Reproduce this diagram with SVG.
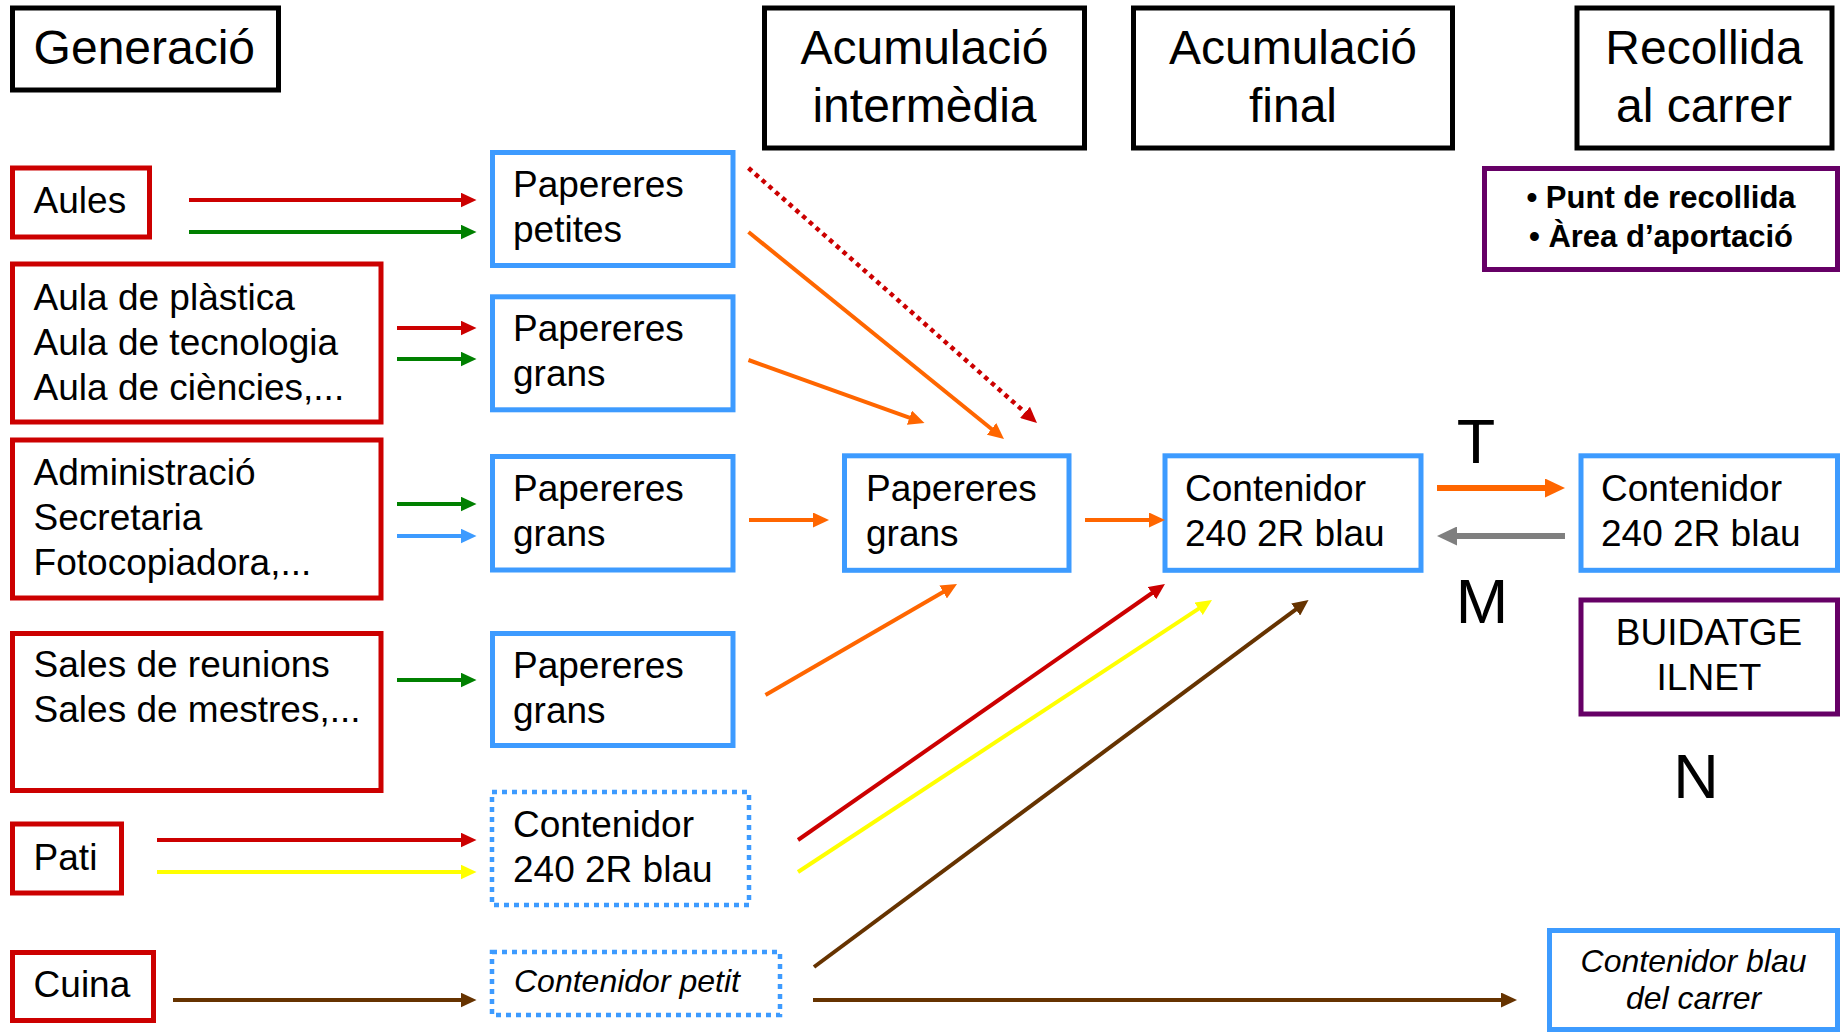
<svg xmlns="http://www.w3.org/2000/svg" width="1843" height="1032" viewBox="0 0 1843 1032">
<style>
text{font-family:"Liberation Sans",Arial,sans-serif;fill:#000}
.t37{font-size:37px}
.t48{font-size:48px}
.t63{font-size:63px}
.it{font-size:32px;font-style:italic}
.bold{font-size:31px;font-weight:bold}
.mid{text-anchor:middle}
.bk{fill:#fff;stroke:#000;stroke-width:5}
.rd{fill:#fff;stroke:#cc0000;stroke-width:5}
.bl{fill:#fff;stroke:#3d9bff;stroke-width:5}
.bld{fill:#fff;stroke:#3d9bff;stroke-width:4.5;stroke-dasharray:5 5}
.pu{fill:#fff;stroke:#660066;stroke-width:5}
.c{fill:none;stroke-width:4}
</style>
<defs>
<marker id="ah-red" markerUnits="userSpaceOnUse" markerWidth="16" markerHeight="15" refX="2" refY="7.5" orient="auto"><path d="M0,0 L16,7.5 L0,15z" fill="#cc0000"/></marker>
<marker id="ah-green" markerUnits="userSpaceOnUse" markerWidth="16" markerHeight="15" refX="2" refY="7.5" orient="auto"><path d="M0,0 L16,7.5 L0,15z" fill="#008000"/></marker>
<marker id="ah-blue" markerUnits="userSpaceOnUse" markerWidth="16" markerHeight="15" refX="2" refY="7.5" orient="auto"><path d="M0,0 L16,7.5 L0,15z" fill="#3d9bff"/></marker>
<marker id="ah-orange" markerUnits="userSpaceOnUse" markerWidth="16" markerHeight="15" refX="2" refY="7.5" orient="auto"><path d="M0,0 L16,7.5 L0,15z" fill="#ff6600"/></marker>
<marker id="ah-yellow" markerUnits="userSpaceOnUse" markerWidth="16" markerHeight="15" refX="2" refY="7.5" orient="auto"><path d="M0,0 L16,7.5 L0,15z" fill="#ffff00"/></marker>
<marker id="ah-brown" markerUnits="userSpaceOnUse" markerWidth="16" markerHeight="15" refX="2" refY="7.5" orient="auto"><path d="M0,0 L16,7.5 L0,15z" fill="#663300"/></marker>
<marker id="ah-orange-big" markerUnits="userSpaceOnUse" markerWidth="20" markerHeight="19" refX="2" refY="9.5" orient="auto"><path d="M0,0 L20,9.5 L0,19z" fill="#ff6600"/></marker>
<marker id="ah-gray-big" markerUnits="userSpaceOnUse" markerWidth="20" markerHeight="19" refX="2" refY="9.5" orient="auto"><path d="M0,0 L20,9.5 L0,19z" fill="#7f7f7f"/></marker>
</defs>
<rect width="1843" height="1032" fill="#fff"/>

<g id="h-generacio"><rect class="bk" x="12.5" y="8" width="266" height="82"/><text class="t48" x="33.6" y="63.5">Generació</text></g>
<g id="h-acum-intermedia"><rect class="bk" x="764.5" y="8" width="320" height="140"/><text class="t48 mid" x="924.5" y="64">Acumulació</text><text class="t48 mid" x="924.5" y="121.5">intermèdia</text></g>
<g id="h-acum-final"><rect class="bk" x="1133.5" y="8" width="319" height="140"/><text class="t48 mid" x="1293" y="64">Acumulació</text><text class="t48 mid" x="1293" y="121.5">final</text></g>
<g id="h-recollida"><rect class="bk" x="1577" y="8" width="255" height="140"/><text class="t48 mid" x="1704" y="64">Recollida</text><text class="t48 mid" x="1704" y="121.5">al carrer</text></g>
<g id="punt-recollida"><rect class="pu" x="1484.5" y="168.5" width="353" height="101"/><text class="bold mid" x="1661" y="208">• Punt de recollida</text><text class="bold mid" x="1661" y="247">• Àrea d’aportació</text></g>

<g id="aules"><rect class="rd" x="12.5" y="168" width="137" height="69"/><text class="t37" x="33.6" y="213">Aules</text></g>
<g id="aules-especials"><rect class="rd" x="12.5" y="264" width="368.5" height="158"/><text class="t37" x="33.6" y="310">Aula de plàstica</text><text class="t37" x="33.6" y="355">Aula de tecnologia</text><text class="t37" x="33.6" y="400">Aula de ciències,...</text></g>
<g id="administracio"><rect class="rd" x="12.5" y="440" width="368.5" height="158"/><text class="t37" x="33.6" y="485">Administració</text><text class="t37" x="33.6" y="530">Secretaria</text><text class="t37" x="33.6" y="575">Fotocopiadora,...</text></g>
<g id="sales"><rect class="rd" x="12.5" y="633.5" width="368.5" height="157"/><text class="t37" x="33.6" y="677">Sales de reunions</text><text class="t37" x="33.6" y="722">Sales de mestres,...</text></g>
<g id="pati"><rect class="rd" x="12.5" y="824" width="109" height="69"/><text class="t37" x="33.6" y="870">Pati</text></g>
<g id="cuina"><rect class="rd" x="12.5" y="952.5" width="141" height="68"/><text class="t37" x="33.6" y="997">Cuina</text></g>

<g id="papereres-petites"><rect class="bl" x="492.5" y="152.5" width="240.5" height="113"/><text class="t37" x="513" y="197">Papereres</text><text class="t37" x="513" y="242">petites</text></g>
<g id="papereres-grans-1"><rect class="bl" x="492.5" y="296.8" width="240.5" height="113"/><text class="t37" x="513" y="341">Papereres</text><text class="t37" x="513" y="386">grans</text></g>
<g id="papereres-grans-2"><rect class="bl" x="492.5" y="456.5" width="240.5" height="113.5"/><text class="t37" x="513" y="501">Papereres</text><text class="t37" x="513" y="546">grans</text></g>
<g id="papereres-grans-3"><rect class="bl" x="492.5" y="633.5" width="240.5" height="112"/><text class="t37" x="513" y="678">Papereres</text><text class="t37" x="513" y="723">grans</text></g>
<g id="contenidor-pati"><rect class="bld" x="492" y="792" width="257" height="113"/><text class="t37" x="513" y="837">Contenidor</text><text class="t37" x="513" y="882">240 2R blau</text></g>
<g id="contenidor-petit"><rect class="bld" x="492" y="952" width="288" height="63"/><text class="it" x="514" y="992">Contenidor petit</text></g>

<g id="papereres-grans-mid"><rect class="bl" x="844.5" y="455.8" width="224.5" height="114.5"/><text class="t37" x="866" y="501">Papereres</text><text class="t37" x="866" y="546">grans</text></g>
<g id="contenidor-final"><rect class="bl" x="1165" y="455.8" width="256" height="114.5"/><text class="t37" x="1185" y="501">Contenidor</text><text class="t37" x="1185" y="546">240 2R blau</text></g>
<g id="contenidor-carrer"><rect class="bl" x="1581" y="455.8" width="256.5" height="114.5"/><text class="t37" x="1601" y="501">Contenidor</text><text class="t37" x="1601" y="546">240 2R blau</text></g>
<g id="buidatge"><rect class="pu" x="1581" y="600" width="256.5" height="114"/><text class="t37 mid" x="1709" y="645">BUIDATGE</text><text class="t37 mid" x="1709" y="690">ILNET</text></g>
<g id="contenidor-blau-carrer"><rect class="bl" x="1549.5" y="930.5" width="288" height="99"/><text class="it mid" x="1693.5" y="972">Contenidor blau</text><text class="it mid" x="1693.5" y="1009">del carrer</text></g>

<g id="labels"><text class="t63 mid" x="1476" y="463">T</text><text class="t63 mid" x="1482" y="623">M</text><text class="t63 mid" x="1696" y="798">N</text></g>

<g id="connectors">
<line class="c" x1="189" y1="200" x2="462.5" y2="200" stroke="#cc0000" marker-end="url(#ah-red)"/>
<line class="c" x1="189" y1="232" x2="462.5" y2="232" stroke="#008000" marker-end="url(#ah-green)"/>
<line class="c" x1="397" y1="328" x2="462.5" y2="328" stroke="#cc0000" marker-end="url(#ah-red)"/>
<line class="c" x1="397" y1="359" x2="462.5" y2="359" stroke="#008000" marker-end="url(#ah-green)"/>
<line class="c" x1="397" y1="504" x2="462.5" y2="504" stroke="#008000" marker-end="url(#ah-green)"/>
<line class="c" x1="397" y1="536" x2="462.5" y2="536" stroke="#3d9bff" marker-end="url(#ah-blue)"/>
<line class="c" x1="397" y1="680" x2="462.5" y2="680" stroke="#008000" marker-end="url(#ah-green)"/>
<line class="c" x1="157" y1="840" x2="462.5" y2="840" stroke="#cc0000" marker-end="url(#ah-red)"/>
<line class="c" x1="157" y1="872" x2="462.5" y2="872" stroke="#ffff00" marker-end="url(#ah-yellow)"/>
<line class="c" x1="173" y1="1000" x2="462.5" y2="1000" stroke="#663300" marker-end="url(#ah-brown)"/>

<line x1="748.5" y1="168" x2="1026.5" y2="413.7" stroke="#cc0000" stroke-width="4.5" stroke-dasharray="4.5 4.5" marker-end="url(#ah-red)"/>
<line class="c" x1="748.5" y1="232" x2="993.1" y2="430.2" stroke="#ff6600" marker-end="url(#ah-orange)"/>
<line class="c" x1="748.5" y1="360" x2="911.3" y2="418.3" stroke="#ff6600" marker-end="url(#ah-orange)"/>
<line class="c" x1="749" y1="520" x2="815" y2="520" stroke="#ff6600" marker-end="url(#ah-orange)"/>
<line class="c" x1="765.5" y1="695" x2="944.9" y2="591" stroke="#ff6600" marker-end="url(#ah-orange)"/>
<line class="c" x1="1085" y1="520" x2="1151" y2="520" stroke="#ff6600" marker-end="url(#ah-orange)"/>
<line class="c" x1="798" y1="840" x2="1153.5" y2="592" stroke="#cc0000" marker-end="url(#ah-red)"/>
<line class="c" x1="798" y1="872" x2="1200.3" y2="607.7" stroke="#ffff00" marker-end="url(#ah-yellow)"/>
<line class="c" x1="814" y1="967" x2="1297.3" y2="608.3" stroke="#663300" marker-end="url(#ah-brown)"/>
<line class="c" x1="813" y1="1000" x2="1503" y2="1000" stroke="#663300" marker-end="url(#ah-brown)"/>
<line x1="1437" y1="488" x2="1547" y2="488" stroke="#ff6600" stroke-width="6" marker-end="url(#ah-orange-big)"/>
<line x1="1565" y1="536" x2="1455" y2="536" stroke="#7f7f7f" stroke-width="6" marker-end="url(#ah-gray-big)"/>
</g>
</svg>
